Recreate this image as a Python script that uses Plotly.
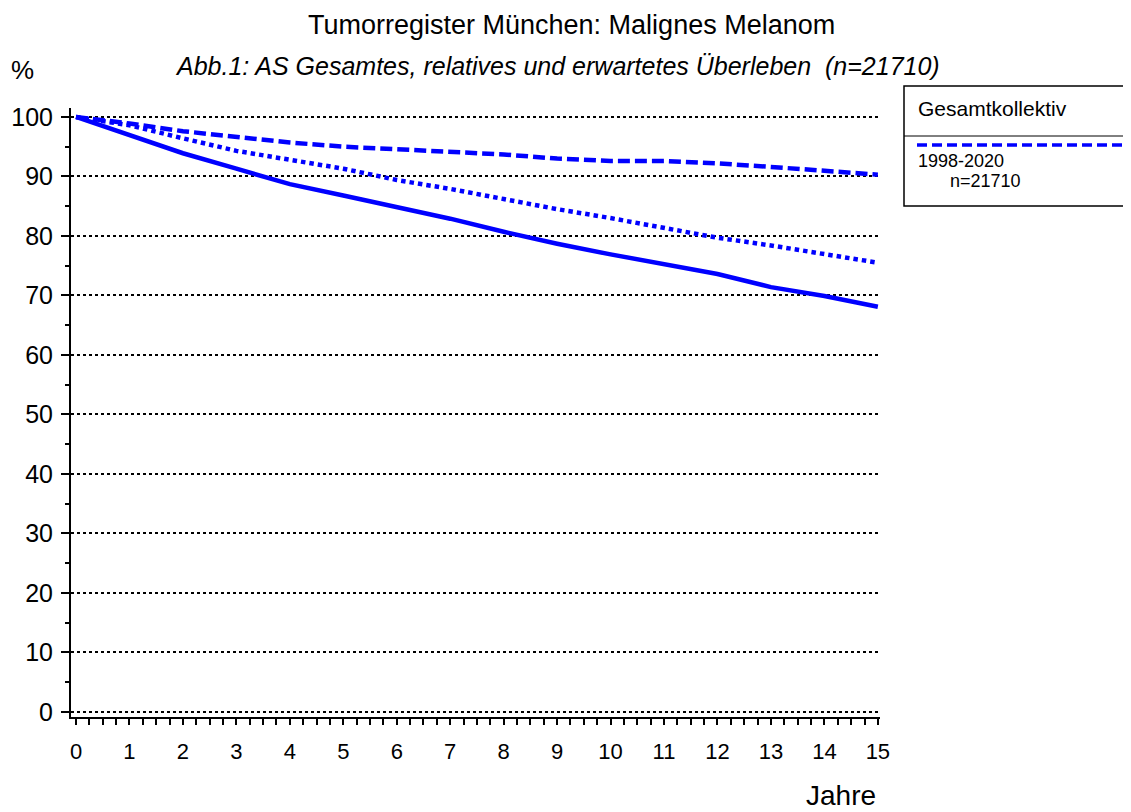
import plotly.graph_objects as go

# ---- data ----
years = list(range(0, 16))
gesamt = [100, 97.0, 93.9, 91.3, 88.7, 86.8, 84.9, 82.9, 80.7, 78.7, 76.9, 75.3, 73.6, 71.4, 69.9, 68.1]
relativ = [100, 98.9, 97.6, 96.6, 95.7, 95.0, 94.6, 94.1, 93.7, 93.0, 92.6, 92.6, 92.2, 91.6, 91.0, 90.3]
erwartet = [100, 98.6, 96.4, 94.3, 92.8, 91.3, 89.4, 87.9, 86.2, 84.5, 83.0, 81.4, 79.7, 78.4, 76.9, 75.5]
y_ticks = list(range(0, 101, 10))
x_ticks = list(range(0, 16))

FONT = "Liberation Sans, Arial, sans-serif"
BLUE = "#0000FF"

fig = go.Figure()
fig.add_trace(go.Scatter(x=years, y=gesamt, mode="lines",
                         line=dict(color=BLUE, width=4.5), showlegend=False))
fig.add_trace(go.Scatter(x=years, y=relativ, mode="lines",
                         line=dict(color=BLUE, width=4.5, dash="12px,5px"), showlegend=False))
fig.add_trace(go.Scatter(x=years, y=erwartet, mode="lines",
                         line=dict(color=BLUE, width=4.5, dash="4.5px,4px"), showlegend=False))

# page offset (browser body margin) compensation
OFF = 8
W, H = 1131 - OFF, 812 - OFF
# plot area in reference pixels: x 71..880, y 108..717
L, R, T, B = 71 - OFF, 880 - OFF, 108 - OFF, 717 - OFF

def px(x):
    return (x - OFF - L) / (R - L)

def py(y):
    return (B - (y - OFF)) / (B - T)

fig.update_layout(
    width=W, height=H,
    margin=dict(l=L, r=W - R, t=T, b=H - B, autoexpand=False),
    paper_bgcolor="white", plot_bgcolor="white",
    font=dict(family=FONT, color="black"),
)

fig.update_xaxes(
    range=[-0.094, 15.04], tickvals=x_ticks, ticktext=[str(v) for v in x_ticks],
    showline=True, linecolor="black", linewidth=2,
    ticks="outside", ticklen=6, tickwidth=2, tickcolor="black",
    tickfont=dict(size=22, family=FONT), ticklabelstandoff=8,
    minor=dict(dtick=0.25, tick0=0, ticks="outside", ticklen=6, tickwidth=2, tickcolor="black", showgrid=False),
    showgrid=False, zeroline=False,
)
fig.update_yaxes(
    range=[-0.84, 101.5], tickvals=y_ticks, ticktext=[str(v) for v in y_ticks],
    showline=True, linecolor="black", linewidth=2,
    ticks="outside", ticklen=8, tickwidth=2, tickcolor="black",
    tickfont=dict(size=25, family=FONT), ticklabelstandoff=3,
    minor=dict(dtick=5, tick0=0, ticks="outside", ticklen=4, tickwidth=2, tickcolor="black", showgrid=False),
    showgrid=True, gridcolor="black", gridwidth=1.5, griddash="dot", zeroline=False,
)

# titles
fig.add_annotation(text="Tumorregister München: Malignes Melanom", xref="paper", yref="paper",
                   x=px(571), y=py(25), showarrow=False, xanchor="center", yanchor="middle",
                   font=dict(size=27, family=FONT), borderpad=0)
fig.add_annotation(text="<i>Abb.1: AS Gesamtes, relatives und erwartetes Überleben  (n=21710)</i>",
                   xref="paper", yref="paper", x=px(557), y=py(66), showarrow=False,
                   xanchor="center", yanchor="middle", font=dict(size=25, family=FONT))
fig.add_annotation(text="%", xref="paper", yref="paper", x=px(22), y=py(70), showarrow=False,
                   xanchor="center", yanchor="middle", font=dict(size=26, family=FONT))
fig.add_annotation(text="Jahre", xref="paper", yref="paper", x=px(878), y=py(795), showarrow=False,
                   xanchor="right", yanchor="middle", font=dict(size=28, family=FONT))

# legend box
fig.add_shape(type="rect", xref="paper", yref="paper",
              x0=px(904), x1=px(1140), y0=py(206), y1=py(86),
              line=dict(color="black", width=1.5), fillcolor="rgba(0,0,0,0)")
fig.add_shape(type="line", xref="paper", yref="paper",
              x0=px(904), x1=px(1140), y0=py(136), y1=py(136),
              line=dict(color="black", width=1))
fig.add_shape(type="line", xref="paper", yref="paper",
              x0=px(917), x1=px(1122), y0=py(145), y1=py(145),
              line=dict(color=BLUE, width=3.5, dash="10px,5px"))
fig.add_annotation(text="Gesamtkollektiv", xref="paper", yref="paper", x=px(916), y=py(108),
                   showarrow=False, xanchor="left", yanchor="middle", font=dict(size=21, family=FONT))
fig.add_annotation(text="1998-2020", xref="paper", yref="paper", x=px(916), y=py(161),
                   showarrow=False, xanchor="left", yanchor="middle", font=dict(size=18, family=FONT))
fig.add_annotation(text="n=21710", xref="paper", yref="paper", x=px(948), y=py(181),
                   showarrow=False, xanchor="left", yanchor="middle", font=dict(size=18, family=FONT))

fig.write_html("out.html")
